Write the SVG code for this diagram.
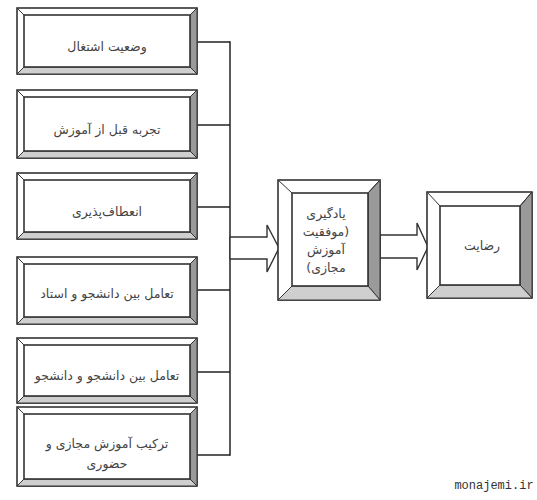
<svg xmlns="http://www.w3.org/2000/svg" width="537" height="500" viewBox="0 0 537 500">
<style>
.o{fill:#fff;stroke:#333;stroke-width:1.6}
.r{fill:#9a9a9a;stroke:#333;stroke-width:1}
.b{fill:#cfcfcf;stroke:#333;stroke-width:1}
.i{fill:#fff;stroke:#333;stroke-width:1.6}
.d{stroke:#333;stroke-width:1;fill:none}
.t{font-family:"DejaVu Sans",sans-serif;font-size:12.5px;fill:#444;text-anchor:middle;dominant-baseline:central;direction:rtl;unicode-bidi:embed}
.c{stroke:#222;stroke-width:1.5;fill:none}
.a{fill:#fff;stroke:#333;stroke-width:1.4;stroke-linejoin:miter}
</style>
<rect width="537" height="500" fill="#fff"/>
<g id="connectors">
<polyline class="c" points="197,42 230,42"/>
<polyline class="c" points="197,125 230,125"/>
<polyline class="c" points="197,207 230,207"/>
<polyline class="c" points="197,290 230,290"/>
<polyline class="c" points="197,372 230,372"/>
<polyline class="c" points="197,455 230,455"/>
<line class="c" x1="230" y1="41.3" x2="230" y2="455.7"/>
<polygon class="a" points="230,237 267,237 267,225 279,248 267,272 267,259 230,259"/>
<polygon class="a" points="380,235 417,235 417,223 428,247 417,270 417,258 380,258"/>
</g>
<g id="n1">
<rect class="o" x="17" y="8" width="180" height="66"/>
<polygon class="r" points="197,8 197,74 190,67 190,15"/>
<polygon class="b" points="17,74 197,74 190,67 24,67"/>
<path class="d" d="M17,8L24,15M197,8L190,15M17,74L24,67"/>
<rect class="i" x="24" y="15" width="166" height="52"/>
<text class="t" x="107" y="46">وضعیت اشتغال</text>
</g>
<g id="n2">
<rect class="o" x="17" y="90" width="180" height="68"/>
<polygon class="r" points="197,90 197,158 190,151 190,97"/>
<polygon class="b" points="17,158 197,158 190,151 24,151"/>
<path class="d" d="M17,90L24,97M197,90L190,97M17,158L24,151"/>
<rect class="i" x="24" y="97" width="166" height="54"/>
<text class="t" x="107" y="129">تجربه قبل از آموزش</text>
</g>
<g id="n3">
<rect class="o" x="17" y="173" width="180" height="66"/>
<polygon class="r" points="197,173 197,239 190,232 190,180"/>
<polygon class="b" points="17,239 197,239 190,232 24,232"/>
<path class="d" d="M17,173L24,180M197,173L190,180M17,239L24,232"/>
<rect class="i" x="24" y="180" width="166" height="52"/>
<text class="t" x="107" y="211">انعطاف‌پذیری</text>
</g>
<g id="n4">
<rect class="o" x="17" y="257" width="180" height="67"/>
<polygon class="r" points="197,257 197,324 190,317 190,264"/>
<polygon class="b" points="17,324 197,324 190,317 24,317"/>
<path class="d" d="M17,257L24,264M197,257L190,264M17,324L24,317"/>
<rect class="i" x="24" y="264" width="166" height="53"/>
<text class="t" x="107" y="293">تعامل بین دانشجو و استاد</text>
</g>
<g id="n5">
<rect class="o" x="17" y="338" width="180" height="65"/>
<polygon class="r" points="197,338 197,403 190,396 190,345"/>
<polygon class="b" points="17,403 197,403 190,396 24,396"/>
<path class="d" d="M17,338L24,345M197,338L190,345M17,403L24,396"/>
<rect class="i" x="24" y="345" width="166" height="51"/>
<text class="t" x="107" y="375">تعامل بین دانشجو و دانشجو</text>
</g>
<g id="n6">
<rect class="o" x="17" y="407" width="180" height="79"/>
<polygon class="r" points="197,407 197,486 190,479 190,414"/>
<polygon class="b" points="17,486 197,486 190,479 24,479"/>
<path class="d" d="M17,407L24,414M197,407L190,414M17,486L24,479"/>
<rect class="i" x="24" y="414" width="166" height="65"/>
<text class="t" x="107" y="443">ترکیب آموزش مجازی و</text>
<text class="t" x="107" y="463">حضوری</text>
</g>
<g id="n7">
<rect class="o" x="278" y="180" width="102" height="120"/>
<polygon class="r" points="380,180 380,300 368,286 368,193"/>
<polygon class="b" points="278,300 380,300 368,286 292,286"/>
<path class="d" d="M278,180L292,193M380,180L368,193M278,300L292,286"/>
<rect class="i" x="292" y="193" width="76" height="93"/>
<text class="t" x="326" y="213">یادگیری</text>
<text class="t" x="326" y="231">(موفقیت</text>
<text class="t" x="326" y="249">آموزش</text>
<text class="t" x="326" y="267">مجازی)</text>
</g>
<g id="n8">
<rect class="o" x="427" y="192" width="105" height="106"/>
<polygon class="r" points="532,192 532,298 520,285 520,206"/>
<polygon class="b" points="427,298 532,298 520,285 440,285"/>
<path class="d" d="M427,192L440,206M532,192L520,206M427,298L440,285"/>
<rect class="i" x="440" y="206" width="80" height="79"/>
<text class="t" x="482" y="245">رضایت</text>
</g>
<text x="494" y="489" style="font-family:'Liberation Mono',monospace;font-size:12px;fill:#333;text-anchor:middle">monajemi.ir</text>
</svg>
